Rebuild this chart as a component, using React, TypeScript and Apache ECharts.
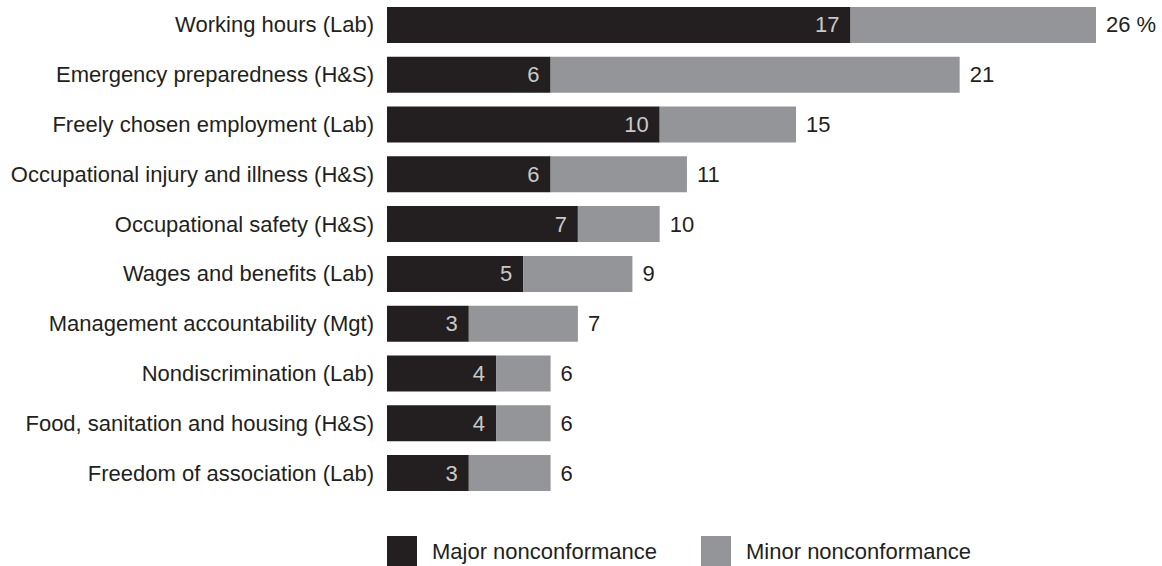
import React, { useEffect, useRef } from "react";
import * as echarts from "echarts";

const categories = [
  "Working hours (Lab)",
  "Emergency preparedness (H&S)",
  "Freely chosen employment (Lab)",
  "Occupational injury and illness (H&S)",
  "Occupational safety (H&S)",
  "Wages and benefits (Lab)",
  "Management accountability (Mgt)",
  "Nondiscrimination (Lab)",
  "Food, sanitation and housing (H&S)",
  "Freedom of association (Lab)",
];
const major = [17, 6, 10, 6, 7, 5, 3, 4, 4, 3];
const totals = [26, 21, 15, 11, 10, 9, 7, 6, 6, 6];
const minor = totals.map((t, i) => t - major[i]);

const FONT = "'Liberation Sans', Arial, Helvetica, sans-serif";
const FS = 22;

export default function App() {
  const ref = useRef<HTMLDivElement>(null);
  useEffect(() => {
    if (!ref.current) return;
    const chart = echarts.init(ref.current, null, { renderer: "svg" });
    chart.setOption({
      animation: false,
      textStyle: { fontFamily: FONT },
      grid: { left: 387, width: 709, top: -2, height: 500, containLabel: false },
      xAxis: { type: "value", min: 0, max: 26, show: false },
      yAxis: {
        type: "category",
        data: categories,
        inverse: true,
        axisLine: { show: false },
        axisTick: { show: false },
        axisLabel: { color: "#231f20", fontSize: FS, margin: 13, fontFamily: FONT },
      },
      legend: {
        top: 536,
        left: 387,
        padding: 0,
        itemWidth: 30,
        itemHeight: 30,
        itemGap: 44,
        icon: "rect",
        selectedMode: false,
        textStyle: { fontSize: FS, color: "#231f20", fontFamily: FONT, padding: [6, 0, 0, 10] },
        data: ["Major nonconformance", "Minor nonconformance"],
      },
      series: [
        {
          name: "Major nonconformance",
          type: "bar",
          stack: "a",
          barWidth: 36,
          data: major,
          itemStyle: { color: "#231f20" },
          label: {
            show: true,
            position: "insideRight",
            distance: 11,
            color: "#c9c9c9",
            fontSize: FS,
            fontFamily: FONT,
          },
        },
        {
          name: "Minor nonconformance",
          type: "bar",
          stack: "a",
          barWidth: 36,
          data: minor,
          itemStyle: { color: "#939598" },
          label: {
            show: true,
            position: "right",
            distance: 10,
            color: "#231f20",
            fontSize: FS,
            fontFamily: FONT,
            formatter: (p: any) => (p.dataIndex === 0 ? `${totals[p.dataIndex]} %` : `${totals[p.dataIndex]}`),
          },
        },
      ],
    });
    return () => chart.dispose();
  }, []);
  return <div ref={ref} style={{ width: 1162, height: 566, position: "absolute", left: 0, top: 0 }} />;
}
